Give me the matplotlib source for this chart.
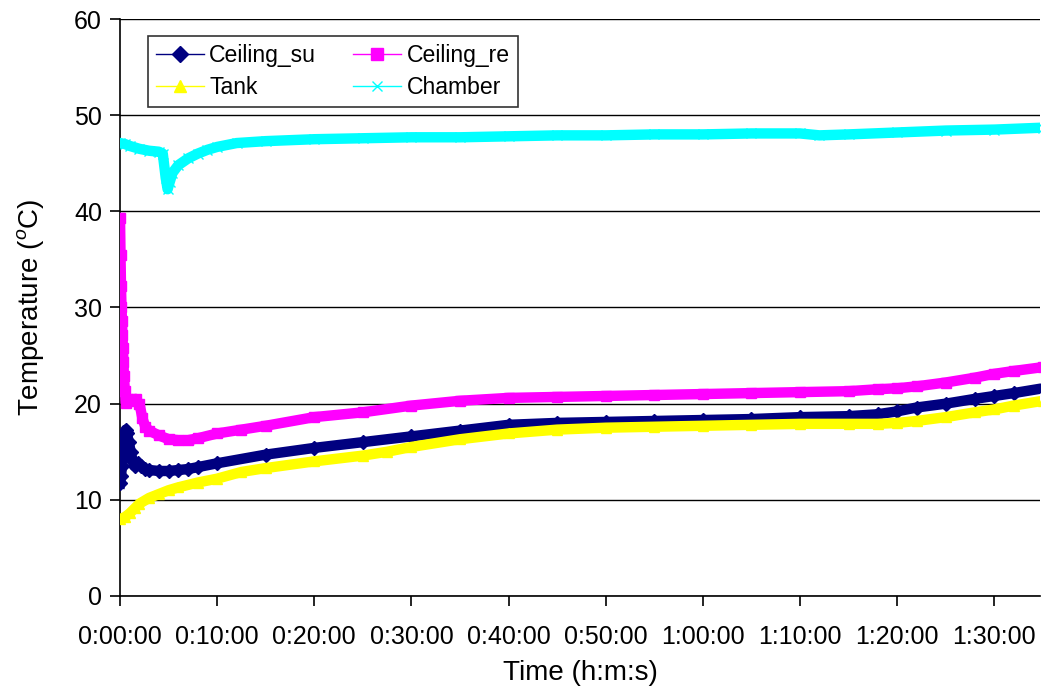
import matplotlib
matplotlib.use("Agg")
import matplotlib.pyplot as plt
from matplotlib.lines import Line2D
from matplotlib.ticker import FuncFormatter, MultipleLocator

plt.rcParams["font.family"] = ["Liberation Sans", "DejaVu Sans"]
plt.rcParams["mathtext.fontset"] = "custom"
plt.rcParams["mathtext.rm"] = "Liberation Sans"
plt.rcParams["mathtext.it"] = "Liberation Sans:italic"

# time in minutes, temperatures in deg C
t_su = [0.0, 0.1, 0.2, 0.3, 0.4, 0.5, 0.6, 0.7, 0.9, 1.1, 1.3, 1.5, 1.8, 2.2, 2.6,
        3, 4, 5, 6, 7, 8, 10, 15, 20, 25, 30, 35, 40, 45, 50, 55, 60, 65, 70,
        75, 78, 80, 82, 85, 88, 90, 92, 95]
ceiling_su = [11.7, 12.5, 13.5, 14.8, 15.8, 16.8, 17.3, 17.0, 16.0, 15.0, 14.0, 13.5,
              13.8, 13.5, 13.2, 13.1, 13.0, 13.0, 13.1, 13.2, 13.4, 13.8, 14.7, 15.4,
              16.0, 16.6, 17.2, 17.8, 18.0, 18.1, 18.2, 18.3, 18.4, 18.6, 18.7, 18.9,
              19.2, 19.6, 20.0, 20.5, 20.8, 21.1, 21.6]

t_re = [0.0, 0.05, 0.1, 0.15, 0.2, 0.25, 0.3, 0.35, 0.4, 0.5, 0.6, 0.8, 1.2, 1.6, 2.0,
        2.3, 2.6, 3, 4, 5, 6, 7, 8, 10, 12.5, 15, 20, 25, 30, 35, 40, 45, 50, 55,
        60, 65, 70, 75, 78, 80, 82, 85, 88, 90, 92, 95]
ceiling_re = [39.3, 35.5, 32.2, 30.1, 28.6, 27.1, 25.8, 24.3, 22.9, 21.3, 20.1, 20.5,
              20.3, 20.5, 20.0, 18.5, 17.6, 17.2, 16.7, 16.3, 16.2, 16.2, 16.4, 16.9,
              17.3, 17.7, 18.6, 19.1, 19.8, 20.3, 20.6, 20.7, 20.8, 20.9, 21.0, 21.1,
              21.2, 21.3, 21.5, 21.6, 21.8, 22.2, 22.7, 23.1, 23.4, 23.8]

t_tank = [0, 0.5, 1, 1.5, 2, 3, 4, 5, 6, 8, 10, 12.5, 15, 20, 25, 27.5, 30, 35, 40,
          45, 50, 55, 60, 65, 70, 75, 78, 80, 82, 85, 88, 90, 92, 95]
tank = [8.0, 8.2, 8.6, 9.1, 9.6, 10.2, 10.6, 11.0, 11.3, 11.8, 12.2, 12.9, 13.3, 14.0,
        14.6, 15.0, 15.5, 16.3, 16.9, 17.3, 17.5, 17.6, 17.7, 17.8, 17.9, 17.9, 17.9,
        18.0, 18.2, 18.6, 19.1, 19.4, 19.8, 20.3]

t_ch = [0, 0.5, 1, 2, 3, 4, 4.4, 4.7, 4.9, 5.1, 5.4, 6, 7, 8, 9, 10, 12, 15, 20, 25,
        30, 35, 40, 45, 50, 55, 60, 65, 70, 72, 75, 80, 85, 90, 95]
chamber = [47.1, 47.0, 46.8, 46.5, 46.3, 46.2, 46.0, 43.5, 42.3, 43.0, 44.0, 44.8,
           45.5, 46.0, 46.4, 46.7, 47.1, 47.3, 47.5, 47.6, 47.7, 47.7, 47.8, 47.9,
           47.9, 48.0, 48.0, 48.1, 48.1, 47.9, 48.0, 48.2, 48.4, 48.5, 48.7]


def hms(x, pos):
    m = int(round(x))
    return "%d:%02d:00" % (m // 60, m % 60)


fig = plt.figure(figsize=(10.41, 6.86), dpi=100)
ax = fig.add_axes([0.1153, 0.1312, 0.8837, 0.8411])

series = [
    (t_su, ceiling_su, "#000080", "D", "Ceiling_su"),
    (t_re, ceiling_re, "#FF00FF", "s", "Ceiling_re"),
    (t_tank, tank, "#FFFF00", "^", "Tank"),
    (t_ch, chamber, "#00FFFF", "x", "Chamber"),
]

handles = {}
for t, y, c, m, name in series:
    # dense markers in the original form a thick band
    ax.plot(t, y, color=c, lw=7.5, solid_joinstyle="round", marker=m, ms=7,
            mec=c, mfc=c, zorder=3)
    handles[name] = Line2D([], [], color=c, lw=1, marker=m, ms=8 if m != "x" else 7,
                           mec=c, mfc=c, label=name)

ax.set_xlim(0, 94.7)
ax.set_ylim(0, 60)
ax.xaxis.set_major_locator(MultipleLocator(10))
ax.xaxis.set_major_formatter(FuncFormatter(hms))
ax.yaxis.set_major_locator(MultipleLocator(10))
ax.grid(axis="y", color="black", lw=1)
ax.set_axisbelow(True)
for s in ["top", "right"]:
    ax.spines[s].set_visible(False)
ax.spines["left"].set_linewidth(1.2)
ax.spines["bottom"].set_linewidth(1.2)
ax.tick_params(labelsize=18, length=7, width=1.2, direction="out")
ax.tick_params(axis="x", pad=14)
ax.tick_params(axis="y", pad=6)

ax.set_xlabel("Time (h:m:s)", fontsize=20, labelpad=8)
ax.set_ylabel(r"Temperature ($^o$C)", fontsize=20, labelpad=20)

# row-wise legend order: Ceiling_su, Ceiling_re / Tank, Chamber
order = ["Ceiling_su", "Tank", "Ceiling_re", "Chamber"]
leg = ax.legend(handles=[handles[k] for k in order], ncol=2,
                loc="upper left", bbox_to_anchor=(0.030, 0.9705), borderaxespad=0,
                fontsize=16.6, frameon=True, fancybox=False, handlelength=2.1,
                columnspacing=1.6, handletextpad=0.22, labelspacing=0.4,
                borderpad=0.35)
leg.get_frame().set_edgecolor("black")
leg.get_frame().set_linewidth(1.2)

fig.savefig("out.png", dpi=100)
